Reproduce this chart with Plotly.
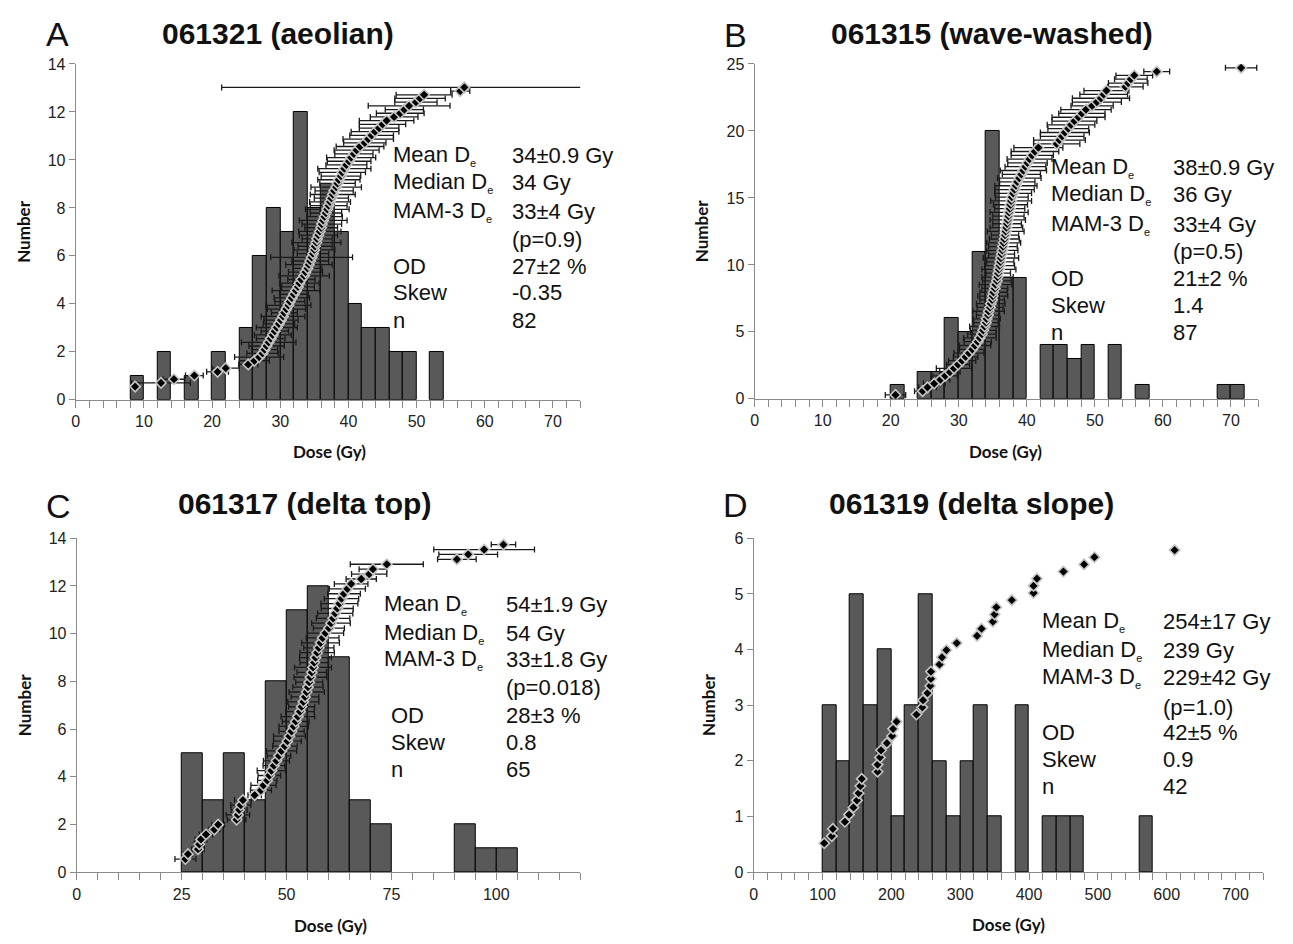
import plotly.graph_objects as go

W, H = 1293, 944

# ---------------- data ----------------
# Panel A: 061321 (aeolian)
A_bin_lo = [8, 10, 12, 14, 16, 18, 20, 22, 24, 26, 28, 30, 32, 34, 36, 38, 40, 42, 44, 46, 48, 50, 52]
A_counts = [1, 0, 2, 0, 1, 0, 2, 0, 3, 6, 8, 7, 12, 8, 9, 7, 4, 3, 3, 2, 2, 0, 2]
A_dose = [8.7, 12.5, 14.4, 17.4, 20.8, 22.0, 25.3, 26.2, 26.9, 27.4,
          27.7, 28.0, 28.3, 28.6, 28.9, 29.2, 29.5, 29.8, 30.1, 30.4,
          30.6, 30.9, 31.2, 31.4, 31.7, 32.0, 32.3, 32.6, 32.8, 33.1,
          33.5, 33.7, 34.0, 34.2, 34.4, 34.6, 34.8, 35.0, 35.1, 35.3,
          35.4, 35.6, 35.8, 36.0, 36.1, 36.3, 36.5, 36.7, 36.9, 37.1,
          37.3, 37.5, 37.7, 37.9, 38.2, 38.4, 38.6, 38.9, 39.1, 39.4,
          39.7, 40.1, 40.4, 40.8, 41.2, 41.7, 42.4, 42.9, 43.4, 43.9,
          44.5, 45.0, 45.6, 46.7, 47.6, 48.2, 48.9, 49.9, 50.5, 51.1,
          56.4, 57.0]
A_err = [0.6, 4.3, 1.6, 1.3, 1.6, 2.0, 1.4, 2.2, 3.6, 2.3,
         1.9, 2.6, 4.0, 2.1, 2.7, 2.0, 3.0, 2.3, 2.5, 3.2,
         1.9, 2.8, 3.3, 2.2, 2.6, 2.1, 3.5, 2.4, 2.9, 2.0,
         3.7, 2.5, 2.1, 3.4, 2.7, 6.0, 2.3, 3.0, 2.5, 3.6,
         2.2, 2.8, 3.1, 2.4, 2.9, 3.5, 2.6, 2.3, 3.2, 2.7,
         3.0, 2.5, 3.3, 2.8, 3.7, 2.6, 3.1, 2.9, 3.4, 3.9,
         3.0, 3.2, 3.6, 2.8, 3.3, 3.5, 3.1, 3.7, 3.2, 3.5,
         2.9, 3.4, 4.0, 3.5, 3.5, 2.8, 6.0, 3.1, 3.7, 4.1,
         1.4, 35.6]
A_stats = ["34±0.9 Gy", "34 Gy", "33±4 Gy", "(p=0.9)", "27±2 %", "-0.35", "82"]

# Panel B: 061315 (wave-washed)
B_bin_lo = [20, 22, 24, 26, 28, 30, 32, 34, 36, 38, 40, 42, 44, 46, 48, 50, 52, 54, 56, 58, 60, 62, 64, 66, 68, 70]
B_counts = [1, 0, 2, 2, 6, 5, 11, 20, 9, 9, 0, 4, 4, 3, 4, 0, 4, 0, 1, 0, 0, 0, 0, 0, 1, 1]
B_dose = [20.7, 24.7, 25.4, 26.4, 27.3, 28.0, 28.7, 29.3, 29.9, 30.5,
          31.0, 31.5, 32.0, 32.4, 32.8, 33.1, 33.4, 33.6, 33.8, 34.0,
          34.1, 34.3, 34.4, 34.6, 34.7, 34.9, 35.0, 35.1, 35.3, 35.4,
          35.6, 35.7, 35.8, 35.9, 36.0, 36.1, 36.2, 36.3, 36.4, 36.5,
          36.6, 36.7, 36.8, 36.9, 37.0, 37.1, 37.2, 37.3, 37.4, 37.5,
          37.6, 37.7, 37.8, 38.0, 38.2, 38.4, 38.6, 38.9, 39.2, 39.5,
          39.8, 40.1, 40.4, 40.8, 41.2, 41.7, 44.4, 44.8, 45.2, 45.6,
          46.1, 46.5, 47.0, 47.6, 48.1, 48.7, 49.6, 50.3, 50.9, 51.3,
          51.7, 54.5, 54.9, 55.3, 55.8, 59.1, 71.5]
B_err = [1.5, 1.2, 1.3, 1.6, 1.4, 1.8, 1.5, 2.6, 1.7, 2.0,
         1.8, 2.2, 1.9, 2.3, 2.0, 2.4, 2.1, 1.9, 2.2, 1.8,
         2.0, 1.7, 2.3, 1.9, 2.1, 1.8, 2.2, 2.0, 1.9, 2.4,
         2.1, 2.3, 1.8, 2.5, 2.2, 2.0, 2.6, 1.9, 2.3, 2.1,
         2.5, 2.2, 2.0, 2.7, 2.4, 2.1, 2.6, 2.3, 2.8, 2.2,
         2.5, 3.0, 2.4, 2.7, 2.9, 3.1, 2.6, 3.2, 2.8, 3.4,
         3.0, 2.9, 3.3, 3.1, 3.5, 3.6, 3.4, 3.8, 3.2, 3.6,
         3.0, 3.5, 3.3, 3.9, 3.4, 3.7, 3.1, 3.6, 4.2, 3.5,
         3.3, 2.6, 2.9, 2.4, 2.7, 1.9, 2.3]
B_stats = ["38±0.9 Gy", "36 Gy", "33±4 Gy", "(p=0.5)", "21±2 %", "1.4", "87"]

# Panel C: 061317 (delta top)
C_bin_lo = [25, 30, 35, 40, 45, 50, 55, 60, 65, 70, 75, 80, 85, 90, 95, 100]
C_counts = [5, 3, 5, 3, 8, 11, 12, 9, 3, 2, 0, 0, 0, 2, 1, 1]
C_dose = [25.9, 26.5, 28.9, 29.2, 29.6, 30.8, 32.8, 33.7, 38.1, 38.4,
          38.7, 39.1, 39.6, 42.4, 43.9, 44.5, 45.4, 45.9, 46.4, 47.0,
          47.6, 48.2, 48.8, 49.6, 50.2, 50.7, 51.2, 51.7, 52.2, 52.7,
          53.2, 53.6, 54.0, 54.4, 54.8, 55.1, 55.4, 55.7, 56.0, 56.3,
          56.6, 56.9, 57.3, 57.7, 58.1, 58.6, 59.3, 60.1, 60.6, 61.1,
          61.6, 62.1, 62.6, 63.1, 63.7, 64.5, 65.4, 67.8, 69.7, 70.6,
          73.9, 90.6, 93.3, 97.1, 101.7]
C_err = [2.5, 1.0, 1.5, 1.2, 1.4, 1.6, 1.3, 1.5, 2.2, 2.8,
         1.9, 2.4, 2.0, 1.6, 2.5, 3.0, 2.3, 2.7, 3.4, 2.6,
         3.1, 2.8, 3.6, 2.9, 3.3, 3.8, 3.0, 3.5, 3.2, 4.0,
         3.4, 3.1, 3.7, 3.3, 4.2, 3.6, 3.2, 3.9, 3.5, 4.4,
         3.4, 3.8, 4.1, 3.6, 4.5, 3.9, 4.3, 3.7, 4.6, 4.0,
         4.2, 3.8, 4.4, 4.1, 3.9, 4.3, 4.0, 3.6, 4.2, 3.3,
         8.7, 4.6, 7.0, 12.0, 2.9]
C_stats = ["54±1.9 Gy", "54 Gy", "33±1.8 Gy", "(p=0.018)", "28±3 %", "0.8", "65"]

# Panel D: 061319 (delta slope)
D_bin_lo = [100, 120, 140, 160, 180, 200, 220, 240, 260, 280, 300, 320, 340, 360, 380, 400, 420, 440, 460, 480, 500, 520, 540, 560]
D_counts = [3, 2, 5, 3, 4, 1, 3, 5, 2, 1, 2, 3, 1, 0, 3, 0, 1, 1, 1, 0, 0, 0, 0, 1]
D_dose = [102.5, 113.5, 115.0, 132.5, 138.5, 145.0, 150.0, 152.5, 155.0, 157.0,
          180.0, 180.0, 183.5, 185.0, 193.5, 201.0, 202.5, 207.5, 236.5, 245.0,
          246.0, 252.5, 256.5, 257.5, 257.5, 270.0, 273.5, 280.0, 295.0, 324.5,
          331.0, 347.5, 350.0, 352.5, 375.0, 406.5, 406.5, 411.5, 450.0, 480.0,
          495.0, 611.5]
D_err = None
D_stats = ["254±17 Gy", "239 Gy", "229±42 Gy", "(p=1.0)", "42±5 %", "0.9", "42"]

SUB = "<sub><span style='font-size:11px'>e</span></sub>"
stat_labels = ["Mean D" + SUB, "Median D" + SUB, "MAM-3 D" + SUB, "", "OD", "Skew", "n"]

panels = [
    dict(letter="A", title="061321 (aeolian)", lo=A_bin_lo, cnt=A_counts, w=2, dose=A_dose, err=A_err,
         stats=A_stats, xdom=(72, 578), ydom=(57, 399), xr=(0, 74), xmaj=10, xmin=2, yr=(0, 14), ydt=2,
         rank_r=(-2.571, 88.34), lab_x=388, od_x=388, val_x=508, rows=[150, 178, 207, 236, 263, 290, 318],
         let_xy=(54, 26), tit_xy=(275, 26), num_x=20, dose_xy=(327, 452)),
    dict(letter="B", title="061315 (wave-washed)", lo=B_bin_lo, cnt=B_counts, w=2, dose=B_dose, err=B_err,
         stats=B_stats, xdom=(753, 1258), ydom=(57, 398), xr=(0, 74), xmaj=10, xmin=2, yr=(0, 25), ydt=5,
         rank_r=(-0.021, 88.01), lab_x=1048, od_x=1048, val_x=1171, rows=[162, 190, 220, 248, 275, 303, 330],
         let_xy=(734, 27), tit_xy=(991, 26), num_x=700, dose_xy=(1005, 452)),
    dict(letter="C", title="061317 (delta top)", lo=C_bin_lo, cnt=C_counts, w=5, dose=C_dose, err=C_err,
         stats=C_stats, xdom=(73, 578), ydom=(540, 880), xr=(0, 120), xmaj=25, xmin=5, yr=(0, 14), ydt=2,
         rank_r=(-1.67, 66.29), lab_x=379, od_x=386, val_x=502, rows=[607, 637, 663, 692, 720, 748, 775],
         let_xy=(55, 507), tit_xy=(301, 505), num_x=20, dose_xy=(328, 934)),
    dict(letter="D", title="061319 (delta slope)", lo=D_bin_lo, cnt=D_counts, w=20, dose=D_dose, err=D_err,
         stats=D_stats, xdom=(752, 1263), ydom=(540, 880), xr=(0, 740), xmaj=100, xmin=20, yr=(0, 6), ydt=1,
         rank_r=(-3.047, 43.65), lab_x=1039, od_x=1039, val_x=1161, rows=[625, 654, 682, 712, 738, 765, 793],
         let_xy=(734, 506), tit_xy=(971, 505), num_x=706, dose_xy=(1008, 933)),
]


def px(x):
    return x / W


def py(y):
    return 1 - y / H


AXC = "#8a8a8a"
TICKFONT = dict(family="Liberation Sans, Arial", size=16, color="#222222")
fig = go.Figure()
layout = {}
annotations = []

for k, p in enumerate(panels, start=1):
    sx = "" if k == 1 else str(k)
    rk = str(k + 4)
    # only non-empty bins are drawn (empty bins show nothing in the reference)
    bx = [lo + p["w"] / 2 for lo, c in zip(p["lo"], p["cnt"]) if c > 0]
    by = [c for c in p["cnt"] if c > 0]
    fig.add_trace(go.Bar(
        x=bx, y=by, width=p["w"], xaxis="x" + sx, yaxis="y" + sx,
        marker=dict(color="#595959", line=dict(color="#000000", width=1)),
        showlegend=False, hoverinfo="x+y"))
    ranks = list(range(1, len(p["dose"]) + 1))
    sc = dict(x=p["dose"], y=ranks, xaxis="x" + sx, yaxis="y" + rk, mode="markers",
              marker=dict(symbol="diamond", size=8, color="#000000",
                          line=dict(color="#c4c4c4", width=1.6)),
              showlegend=False)
    if p["err"] is not None:
        sc["error_x"] = dict(type="data", array=p["err"], visible=True,
                             color="#1a1a1a", thickness=1.3, width=3)
    fig.add_trace(go.Scatter(**sc))

    layout["xaxis" + sx] = dict(
        domain=[px(p["xdom"][0]), px(p["xdom"][1])], anchor="y" + sx,
        range=list(p["xr"]), tick0=0, dtick=p["xmaj"], ticks="outside", ticklen=7,
        tickcolor=AXC, tickwidth=1.2, showline=True, linecolor=AXC, linewidth=1.3,
        showgrid=False, zeroline=False, tickfont=TICKFONT, fixedrange=True,
        minor=dict(dtick=p["xmin"], tick0=0, ticks="outside", ticklen=7,
                   tickcolor=AXC, tickwidth=1.2, showgrid=False))
    layout["yaxis" + sx] = dict(
        domain=[py(p["ydom"][1]), py(p["ydom"][0])], anchor="x" + sx,
        range=list(p["yr"]), tick0=0, dtick=p["ydt"], ticks="outside", ticklen=6,
        tickcolor=AXC, tickwidth=1.2, showline=True, linecolor=AXC, linewidth=1.3,
        showgrid=False, zeroline=False, tickfont=TICKFONT, fixedrange=True)
    layout["yaxis" + rk] = dict(
        overlaying="y" + sx, anchor="x" + sx, range=list(p["rank_r"]),
        visible=False, fixedrange=True)

    # panel letter and title
    annotations.append(dict(x=px(p["let_xy"][0]), y=py(p["let_xy"][1]), xref="paper", yref="paper",
                            text=p["letter"], showarrow=False, xanchor="center", yanchor="middle",
                            font=dict(family="Liberation Sans, Arial", size=34, color="#111111")))
    annotations.append(dict(x=px(p["tit_xy"][0]), y=py(p["tit_xy"][1]), xref="paper", yref="paper",
                            text="<b>" + p["title"] + "</b>", showarrow=False, xanchor="center",
                            yanchor="middle",
                            font=dict(family="Liberation Sans, Arial", size=30, color="#111111")))
    # axis titles
    annotations.append(dict(x=px(p["num_x"]), y=py((p["ydom"][0] + p["ydom"][1]) / 2),
                            xref="paper", yref="paper", text="<b>Number</b>", textangle=-90,
                            showarrow=False, xanchor="center", yanchor="middle",
                            font=dict(family="Lato, Open Sans", size=17, color="#111111")))
    annotations.append(dict(x=px(p["dose_xy"][0]), y=py(p["dose_xy"][1]), xref="paper", yref="paper",
                            text="<b>Dose (Gy)</b>", showarrow=False, xanchor="center",
                            yanchor="middle",
                            font=dict(family="Lato, Open Sans", size=17, color="#111111")))
    # statistics block
    for j, (lab, val) in enumerate(zip(stat_labels, p["stats"])):
        yy = py(p["rows"][j])
        lx = p["od_x"] if j >= 4 else p["lab_x"]
        if lab:
            annotations.append(dict(x=px(lx), y=yy, xref="paper", yref="paper", text=lab,
                                    showarrow=False, xanchor="left", yanchor="middle",
                                    font=dict(family="Liberation Sans, Arial", size=22,
                                              color="#111111")))
        annotations.append(dict(x=px(p["val_x"]), y=yy, xref="paper", yref="paper", text=val,
                                showarrow=False, xanchor="left", yanchor="middle",
                                font=dict(family="Liberation Sans, Arial", size=22,
                                          color="#111111")))

layout.update(dict(
    width=W, height=H, margin=dict(l=0, r=0, t=0, b=0),
    paper_bgcolor="white", plot_bgcolor="white", barmode="overlay", bargap=0,
    annotations=annotations, showlegend=False))
fig.update_layout(**layout)

fig.write_html("out.html", config={"displayModeBar": False},
               post_script="document.body.style.margin='0';document.body.style.overflow='hidden';")
